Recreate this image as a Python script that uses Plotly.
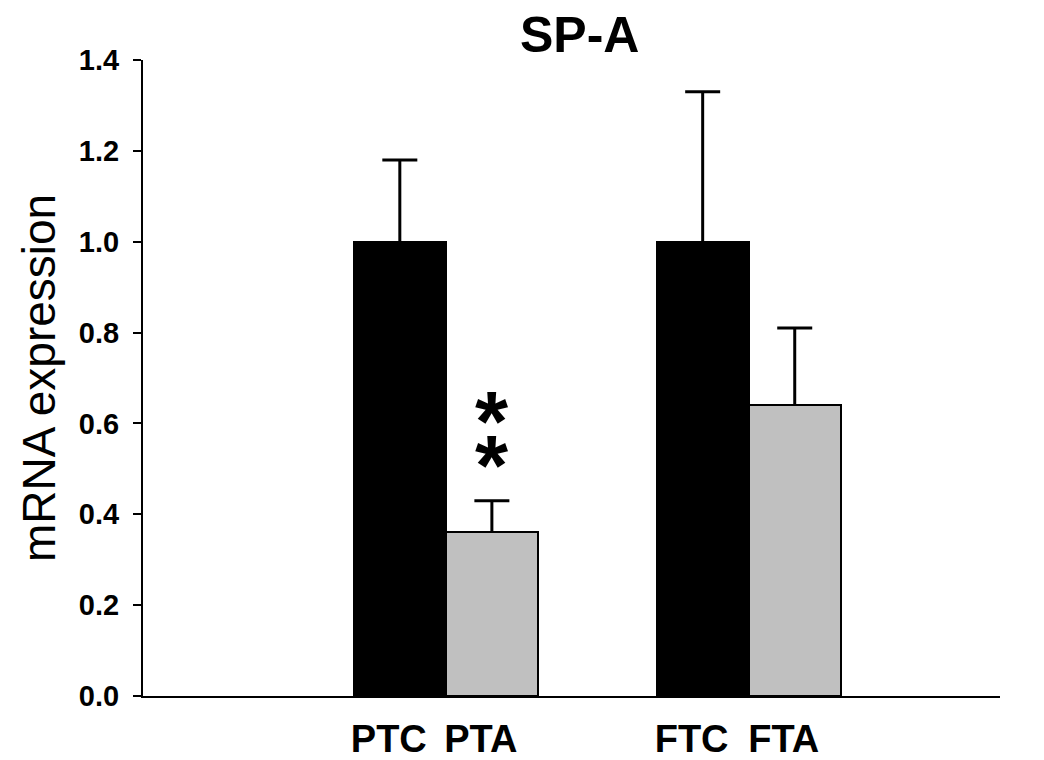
import plotly.graph_objects as go

# Data
categories = ["PTC", "PTA", "FTC", "FTA"]
values = [1.00, 0.36, 1.00, 0.64]
errors_up = [0.18, 0.07, 0.33, 0.17]
bar_colors = ["#000000", "#C0C0C0", "#000000", "#C0C0C0"]
group_index = [0, 0, 1, 1]
within_index = [0, 1, 0, 1]
y_ticks = [0.0, 0.2, 0.4, 0.6, 0.8, 1.0, 1.2, 1.4]
star_category = "PTA"
star_levels = [0.623, 0.528]

GROUP_GAP = 3.29
x_pos = [g * GROUP_GAP + w for g, w in zip(group_index, within_index)]

FONT = "Arial, Liberation Sans, Helvetica, sans-serif"

fig = go.Figure()
fig.add_trace(go.Bar(
    x=x_pos,
    y=values,
    width=1.0,
    marker=dict(color=bar_colors, line=dict(color="black", width=2)),
    showlegend=False,
    hoverinfo="skip",
))

# Upward-only error bars: stems + caps
stem_x, stem_y = [], []
for x, v, e in zip(x_pos, values, errors_up):
    stem_x += [x, x, None]
    stem_y += [v, v + e, None]
fig.add_trace(go.Scatter(
    x=stem_x, y=stem_y, mode="lines",
    line=dict(color="black", width=3),
    showlegend=False, hoverinfo="skip",
))
fig.add_trace(go.Scatter(
    x=x_pos, y=[v + e for v, e in zip(values, errors_up)], mode="markers",
    marker=dict(symbol="line-ew", size=25, line=dict(color="black", width=3)),
    showlegend=False, hoverinfo="skip",
))

i_star = categories.index(star_category)
for lvl in star_levels:
    fig.add_annotation(
        x=x_pos[i_star], y=lvl, xref="x", yref="y", text="<b>*</b>",
        showarrow=False, yanchor="middle", xanchor="center", yshift=-9,
        font=dict(family=FONT, size=85, color="black"),
    )

# Title
fig.add_annotation(
    x=0.509, y=1.039, xref="paper", yref="paper", text="<b>SP-A</b>",
    showarrow=False, xanchor="center", yanchor="middle",
    font=dict(family=FONT, size=50, color="black"),
)
# Y-axis title
fig.add_annotation(
    x=-0.1214, y=0.5, xref="paper", yref="paper", text="mRNA expression",
    showarrow=False, xanchor="center", yanchor="middle", textangle=-90,
    font=dict(family=FONT, size=46, color="black"),
)

fig.update_layout(
    width=1036, height=752,
    margin=dict(l=135, r=44, t=52, b=64),
    plot_bgcolor="white", paper_bgcolor="white",
    bargap=0,
    xaxis=dict(
        range=[-2.79, 6.52], automargin=False,
        tickmode="array", tickvals=[p - 0.12 for p in x_pos], ticktext=categories,
        ticks="", showgrid=False, zeroline=False,
        showline=True, linecolor="black", linewidth=1.5,
        tickfont=dict(family=FONT, size=38, color="black", weight="bold"),
        ticklabelstandoff=9,
    ),
    yaxis=dict(
        range=[0, 1.4], automargin=False,
        tickmode="array", tickvals=y_ticks,
        ticktext=[f"{v:.1f}" for v in y_ticks],
        ticks="outside", ticklen=8, tickwidth=2, tickcolor="black",
        showgrid=False, zeroline=False,
        showline=True, linecolor="black", linewidth=2,
        tickfont=dict(family=FONT, size=29, color="black", weight="bold"),
        ticklabelstandoff=8,
    ),
)

fig.write_html("out.html")
